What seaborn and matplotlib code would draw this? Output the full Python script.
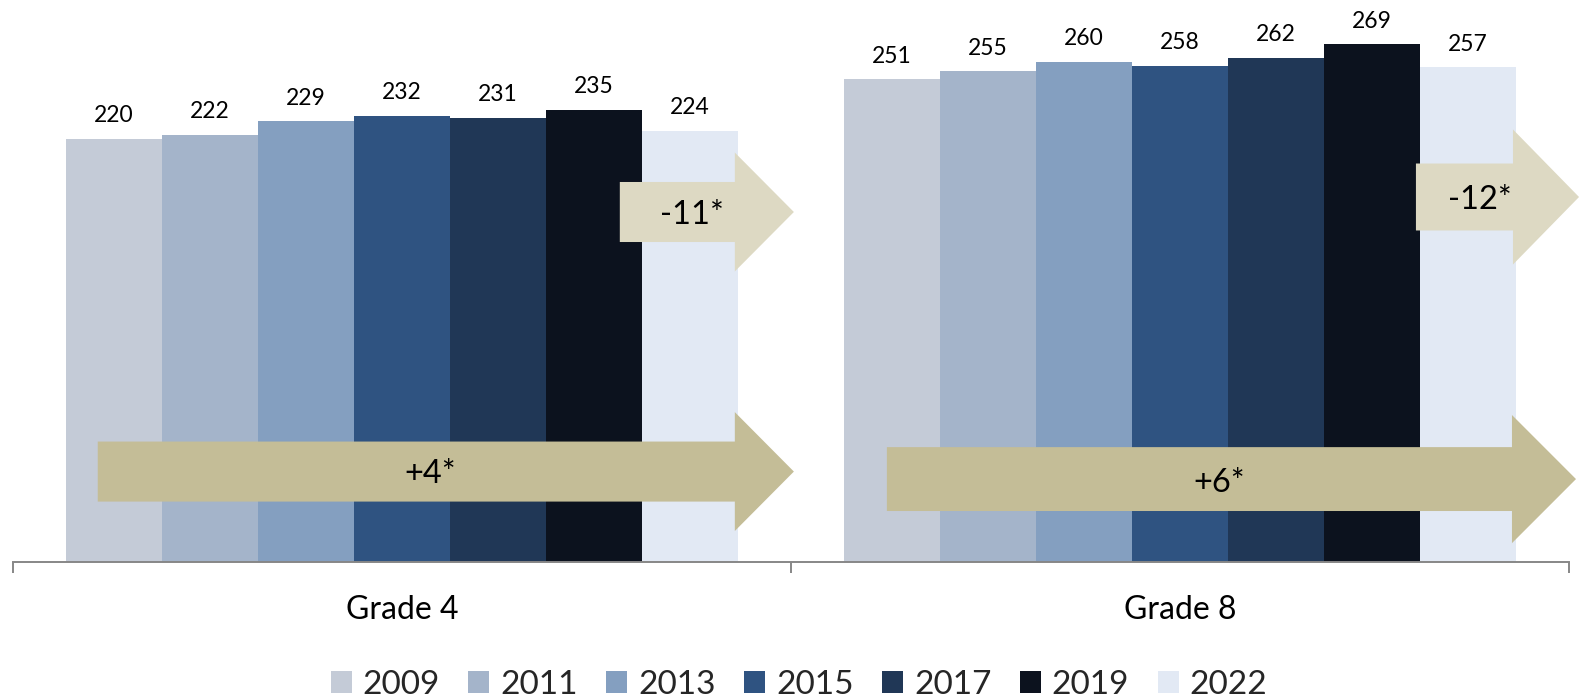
import numpy as np
import pandas as pd
import matplotlib
matplotlib.use("Agg")
import matplotlib.pyplot as plt
from matplotlib.patches import Polygon
import seaborn as sns

# ---------------- data ----------------
grades = ["Grade 4", "Grade 8"]
years = ["2009", "2011", "2013", "2015", "2017", "2019", "2022"]
grade4_scores = [220, 222, 229, 232, 231, 235, 224]
grade8_scores = [251, 255, 260, 258, 262, 269, 257]
year_colors = ["#C4CBD7", "#A4B4CA", "#849FC0", "#2F5381", "#203756", "#0C121E", "#E2E9F4"]
change_since_2019 = ["-11*", "-12*"]
change_since_2009 = ["+4*", "+6*"]

# ---------------- style ----------------
sns.set_style("white")
plt.rcParams["font.family"] = ["Lato", "DejaVu Sans"]

df = pd.DataFrame({
    "grade": np.repeat(grades, len(years)),
    "year": years * len(grades),
    "score": grade4_scores + grade8_scores,
})

W, H = 1579, 697
fig = plt.figure(figsize=(W / 100, H / 100), dpi=100)
ax = fig.add_axes([12.7 / W, 135 / H, 1556.3 / W, 558 / H])

sns.barplot(data=df, x="grade", y="score", hue="year", hue_order=years,
            palette=year_colors, saturation=1, width=0.864, gap=0,
            linewidth=0, errorbar=None, ax=ax)
ax.set_xlim(-0.5, 1.5)
ax.set_ylim(0, 290)

for cont in ax.containers:
    ax.bar_label(cont, fmt="{:.0f}", padding=9, fontsize=16.5, color="black")

# ---------------- arrows (annotation shapes) ----------------
def draw_arrow(x0, x_head, x_tip, yc, shaft_h, head_h, color):
    verts = [(x0, yc - shaft_h), (x_head, yc - shaft_h), (x_head, yc - head_h),
             (x_tip, yc), (x_head, yc + head_h), (x_head, yc + shaft_h),
             (x0, yc + shaft_h)]
    ax.add_patch(Polygon(verts, closed=True, facecolor=color, edgecolor="none",
                         zorder=5, clip_on=False))

# offsets relative to each group's centre
short_geom = [(0.2802, 0.428, 0.5039, 181.9, 15.6, 30.9),
              (0.3033, 0.428, 0.5129, 189.7, 17.4, 35.1)]
long_geom = [(-0.3907, 0.428, 0.5039, 47.0, 15.6, 30.9),
             (-0.3766, 0.4267, 0.509, 43.1, 16.6, 33.3)]
short_text_pos = [(0.3728, 175.7), (0.3856, 183.5)]
long_text_pos = [(0.036, 41.1), (0.050, 36.4)]

for g in range(len(grades)):
    x0, xh, xt, yc, sh, hh = short_geom[g]
    draw_arrow(g + x0, g + xh, g + xt, yc, sh, hh, "#DDD9C3")
    x0, xh, xt, yc, sh, hh = long_geom[g]
    draw_arrow(g + x0, g + xh, g + xt, yc, sh, hh, "#C4BD97")
    tx, ty = short_text_pos[g]
    ax.text(g + tx, ty, change_since_2019[g], ha="center", va="baseline",
            fontsize=23.5, color="black", zorder=6)
    tx, ty = long_text_pos[g]
    ax.text(g + tx, ty, change_since_2009[g], ha="center", va="baseline",
            fontsize=23.5, color="black", zorder=6)

# ---------------- axes ----------------
for s in ["left", "top", "right"]:
    ax.spines[s].set_visible(False)
ax.spines["bottom"].set_color("#878787")
ax.spines["bottom"].set_linewidth(1.4)
ax.set_yticks([])
ax.set_xlabel("")
ax.set_ylabel("")
ax.set_xticks([-0.5, 0.5, 1.5], minor=True)
ax.tick_params(axis="x", which="minor", bottom=True, length=8, width=1.4,
               color="#878787", direction="out")
ax.tick_params(axis="x", which="major", bottom=False, length=0, pad=24,
               labelsize=23, labelcolor="black")

# ---------------- legend ----------------
old = ax.get_legend()
handles = old.legend_handles
labels = [t.get_text() for t in old.get_texts()]
old.remove()
fig.legend(handles, labels, loc="lower center", bbox_to_anchor=(799 / W, -0.004),
           ncol=7, frameon=False, fontsize=24, handlelength=0.63,
           handleheight=0.6, handletextpad=0.33, columnspacing=0.85,
           borderpad=0, borderaxespad=0)

fig.savefig("out.png", dpi=100, facecolor="white")
